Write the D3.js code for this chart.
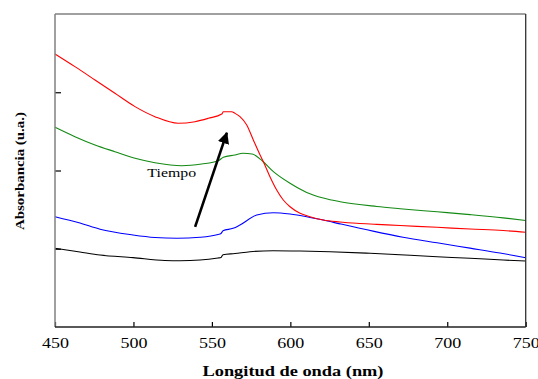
<!DOCTYPE html>
<html>
<head>
<meta charset="utf-8">
<script src="https://cdn.jsdelivr.net/npm/d3@7"></script>
<style>
  body { margin: 0; background: #fff; }
  text { font-family: "Liberation Serif", "Times New Roman", serif; }
</style>
</head>
<body>
<script>
// wavelengths (nm) and absorbance (u.a.)
var redNm = [450, 462.7, 475.5, 488.2, 501, 513.7, 528.6, 539.2, 547.7, 556.3, 557.3, 562.6, 564.7, 567.9, 572.2, 576.4, 580.7, 582.8, 587, 591.3, 595.5, 599.8, 606.2, 612.5, 621, 631.7, 642.3, 655.1, 669.9, 693.5, 714.5, 735.6, 750];
var redVal = [3.489, 3.327, 3.157, 2.987, 2.816, 2.688, 2.603, 2.624, 2.667, 2.722, 2.751, 2.751, 2.731, 2.688, 2.581, 2.390, 2.198, 2.112, 1.921, 1.751, 1.623, 1.537, 1.453, 1.410, 1.367, 1.342, 1.325, 1.312, 1.297, 1.274, 1.252, 1.233, 1.210];

var greenNm = [450, 462.7, 475.5, 488.2, 501, 513.7, 530.8, 543.5, 554.1, 557.3, 564.7, 569.8, 575.6, 582.2, 589.2, 599.8, 610.4, 621, 631.7, 655.1, 669.9, 693.5, 714.5, 735.6, 750];
var greenVal = [2.552, 2.432, 2.326, 2.240, 2.156, 2.100, 2.061, 2.083, 2.125, 2.169, 2.198, 2.220, 2.211, 2.121, 1.985, 1.836, 1.720, 1.648, 1.601, 1.540, 1.512, 1.472, 1.436, 1.395, 1.361];

var blueNm = [450, 465.9, 478.7, 499.7, 513.7, 527.8, 542.4, 553.9, 555.8, 557.1, 563.5, 567.9, 578.6, 589.2, 599.8, 610.4, 621, 631.7, 652.7, 671.8, 693.5, 714.5, 733.6, 750];
var blueVal = [1.410, 1.329, 1.249, 1.176, 1.144, 1.134, 1.146, 1.182, 1.195, 1.231, 1.261, 1.304, 1.431, 1.461, 1.444, 1.410, 1.367, 1.318, 1.225, 1.148, 1.076, 1.008, 0.946, 0.886];

var blackNm = [450, 465.9, 478.7, 499.7, 520.1, 529.7, 542.4, 553.9, 555.8, 557.1, 564.7, 574.3, 589, 606.2, 625.3, 650.8, 693.5, 714.5, 735.6, 750];
var blackVal = [1.006, 0.958, 0.920, 0.886, 0.850, 0.847, 0.856, 0.882, 0.888, 0.924, 0.939, 0.962, 0.975, 0.971, 0.962, 0.942, 0.898, 0.878, 0.856, 0.843];

var xTicks = [450, 500, 550, 600, 650, 700, 750];
var yTicks = [1, 2, 3];

// arrow "Tiempo": [nm, value] tail and head
var arrowFrom = [539.3, 1.28],
    arrowTo = [559.5, 2.48];
var labelPos = [524.4, 1.911];

var width = 538, height = 379,
    plotLeft = 55, plotTop = 14, plotRight = 525.7, plotBottom = 327;

var svg = d3.select("body")
            .append("svg")
            .attr("width", width)
            .attr("height", height);

var x = d3.scaleLinear().domain([450, 750]).range([plotLeft, plotRight]),
    y = d3.scaleLinear().domain([0, 4]).range([plotBottom, plotTop]);

function zip(a, b) {
  return a.map(function(d, i) { return [d, b[i]]; });
}

var series = [
  {color: "#000000", pts: zip(blackNm, blackVal)},
  {color: "#0000ff", pts: zip(blueNm, blueVal)},
  {color: "#138a13", pts: zip(greenNm, greenVal)},
  {color: "#ff0000", pts: zip(redNm, redVal)}
];

var line = d3.line()
             .x(function(d) { return x(d[0]); })
             .y(function(d) { return y(d[1]); })
             .curve(d3.curveMonotoneX);

svg.selectAll(".curve")
   .data(series)
   .enter().append("path")
   .attr("class", "curve")
   .attr("fill", "none")
   .attr("stroke", function(d) { return d.color; })
   .attr("stroke-width", 1.1)
   .attr("d", function(d) { return line(d.pts); });

// axes
var xAxis = svg.append("g")
   .attr("transform", "translate(0," + plotBottom + ")")
   .call(d3.axisBottom(x).tickValues(xTicks).tickSizeInner(-5).tickSizeOuter(0));
xAxis.select(".domain").remove();
xAxis.selectAll("line").attr("stroke", "#000").attr("stroke-width", 1.2);
xAxis.selectAll("text")
     .attr("y", 21).attr("dy", null)
     .attr("fill", "#000")
     .style("font-size", "15px")
     .attr("transform", "scale(1.2,1)");

var yAxis = svg.append("g")
   .attr("transform", "translate(" + plotLeft + ",0)")
   .call(d3.axisLeft(y).tickValues(yTicks).tickSizeInner(-6).tickSizeOuter(0).tickFormat(""));
yAxis.select(".domain").remove();
yAxis.selectAll("line").attr("stroke", "#000").attr("stroke-width", 1.2);

// frame
svg.append("line").attr("x1", plotLeft).attr("x2", plotRight).attr("y1", plotTop).attr("y2", plotTop)
   .attr("stroke", "#808080").attr("stroke-width", 1.5);
svg.append("line").attr("x1", plotLeft).attr("x2", plotLeft).attr("y1", plotTop).attr("y2", plotBottom)
   .attr("stroke", "#808080").attr("stroke-width", 1.5);
svg.append("line").attr("x1", plotRight).attr("x2", plotRight).attr("y1", plotTop).attr("y2", plotBottom)
   .attr("stroke", "#333").attr("stroke-width", 1.3);
svg.append("line").attr("x1", plotLeft).attr("x2", plotRight).attr("y1", plotBottom).attr("y2", plotBottom)
   .attr("stroke", "#222").attr("stroke-width", 1.4);

// arrow
svg.append("defs").append("marker")
   .attr("id", "head")
   .attr("viewBox", "0 0 10 10")
   .attr("refX", 9).attr("refY", 5)
   .attr("markerWidth", 4.5).attr("markerHeight", 4.5)
   .attr("markerUnits", "strokeWidth")
   .attr("orient", "auto")
   .append("path").attr("d", "M0,0 L10,5 L0,10 z").attr("fill", "#000");

svg.append("line")
   .attr("x1", x(arrowFrom[0])).attr("y1", y(arrowFrom[1]))
   .attr("x2", x(arrowTo[0])).attr("y2", y(arrowTo[1]))
   .attr("stroke", "#000").attr("stroke-width", 2.6)
   .attr("marker-end", "url(#head)");

svg.append("text")
   .attr("transform", "translate(" + x(labelPos[0]) + "," + y(labelPos[1]) + ") scale(1.22,1)")
   .attr("text-anchor", "middle")
   .style("font-size", "13px")
   .text("Tiempo");

// axis titles
svg.append("text")
   .attr("x", 293).attr("y", 376)
   .attr("text-anchor", "middle")
   .attr("textLength", 181).attr("lengthAdjust", "spacingAndGlyphs")
   .style("font-size", "15px").style("font-weight", "bold")
   .text("Longitud de onda (nm)");

svg.append("text")
   .attr("transform", "translate(24,171) rotate(-90)")
   .attr("text-anchor", "middle")
   .attr("textLength", 118).attr("lengthAdjust", "spacingAndGlyphs")
   .style("font-size", "13px").style("font-weight", "bold")
   .text("Absorbancia (u.a.)");
</script>
</body>
</html>
